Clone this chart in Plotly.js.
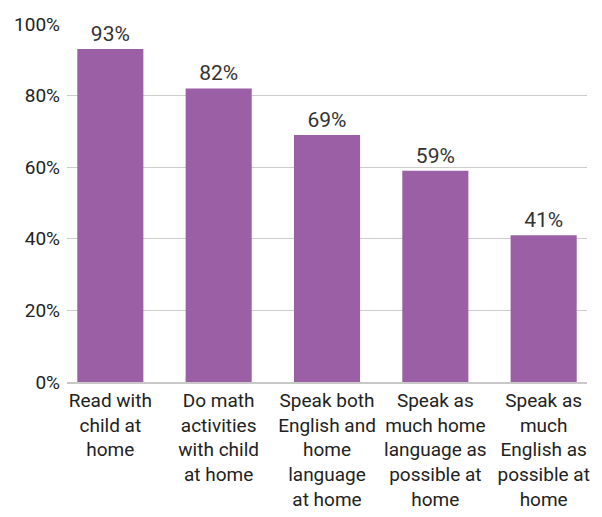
<!DOCTYPE html>
<html><head><meta charset="utf-8">
<script src="https://cdn.plot.ly/plotly-3.0.1.min.js"></script>
<style>body{margin:0;background:#fff}</style>
</head><body>
<div id="chart" style="width:602px;height:517px"></div>
<script>
const categories = [
  "Read with<br>child at<br>home",
  "Do math<br>activities<br>with child<br>at home",
  "Speak both<br>English and<br>home<br>language<br>at home",
  "Speak as<br>much home<br>language as<br>possible at<br>home",
  "Speak as<br>much<br>English as<br>possible at<br>home"
];
const values = [93, 82, 69, 59, 41];
const valueLabels = values.map(v => v + "%");
const yTicks = [0, 20, 40, 60, 80, 100];
const yTickLabels = yTicks.map(v => v + "%");

const fontFam = "'Liberation Sans Narrow', 'Roboto', sans-serif";

Plotly.newPlot("chart", [{
  type: "bar",
  x: [0,1,2,3,4],
  y: values,
  text: valueLabels,
  textposition: "outside",
  cliponaxis: false,
  textfont: {family: fontFam, size: 21, color: "#333"},
  marker: {color: "#9b5fa5"},
  width: 0.61,
  hoverinfo: "none"
}], {
  width: 602, height: 517,
  margin: {l: 67, r: 15, t: 24, b: 135},
  paper_bgcolor: "#fff", plot_bgcolor: "#fff",
  showlegend: false,
  font: {family: fontFam, size: 18, color: "#333"},
  xaxis: {
    range: [-0.4, 4.4],
    tickvals: [0,1,2,3,4],
    ticktext: categories,
    showgrid: false, zeroline: false,
    showline: true, linecolor: "#c8c8c8", linewidth: 2,
    ticks: "", tickfont: {family: fontFam, size: 19, color: "#222"},
    fixedrange: true
  },
  yaxis: {
    range: [0, 100],
    tickvals: yTicks, ticktext: yTickLabels,
    showgrid: true, gridcolor: "#cccccc", gridwidth: 1,
    zeroline: false, showline: false, ticks: "",
    ticklabelstandoff: 6,
    tickfont: {family: fontFam, size: 19, color: "#222"},
    fixedrange: true
  }
}, {displayModeBar: false, staticPlot: true});
</script>
</body></html>
